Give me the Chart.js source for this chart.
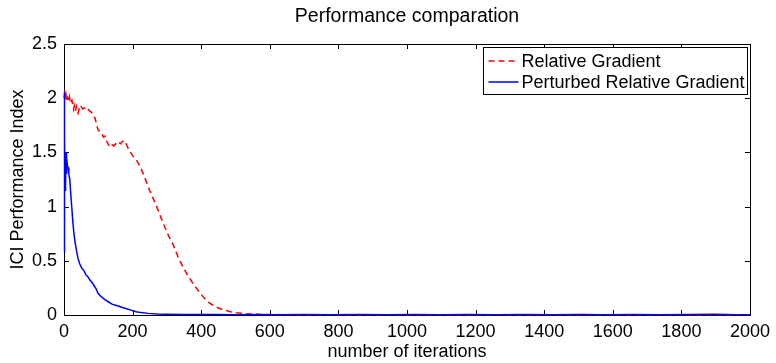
<!DOCTYPE html>
<html>
<head>
<meta charset="utf-8">
<script src="https://cdn.jsdelivr.net/npm/chart.js@4/dist/chart.umd.min.js"></script>
<style>
  html, body { margin: 0; padding: 0; background: #fff; }
  #perfChart { display: block; }
</style>
</head>
<body>
<canvas id="perfChart" width="776" height="363"></canvas>
<script>
const chartTitle = "Performance comparation";
const xTitle = "number of iterations";
const yTitle = "ICI Performance Index";
const seriesNames = ["Relative Gradient", "Perturbed Relative Gradient"];

const xTicks = [0, 200, 400, 600, 800, 1000, 1200, 1400, 1600, 1800, 2000];
const yTicks = [0, 0.5, 1, 1.5, 2, 2.5];

// Relative Gradient (red dashed)
const redIter = [0, 2, 4, 6, 8, 10, 12, 14, 16, 18, 20, 23, 26, 28, 30, 33, 36, 38, 41, 44,
  47, 50, 55, 60, 65, 70, 75, 80, 85, 90, 95, 99, 104, 110, 115, 120, 125, 130, 134, 140,
  145, 150, 155, 160, 165, 170, 175, 180, 185, 192, 200, 213, 222, 230, 240, 251, 262, 274, 285, 294,
  305, 318, 332, 347, 360, 376, 390, 405, 420, 434, 450, 464, 485, 504, 525, 542, 570, 600, 650, 720,
  800, 900, 1000, 1100, 1200, 1300, 1400, 1500, 1600, 1700, 1800, 1900, 2000];
const redValue = [2.0, 2.04, 1.99, 2.03, 1.98, 2.01, 2.0, 1.97, 2.01, 1.97, 1.95, 1.98, 1.94, 1.9, 1.93, 1.88, 1.92, 1.88, 1.86, 1.9,
  1.89, 1.92, 1.9, 1.91, 1.89, 1.9, 1.88, 1.87, 1.85, 1.82, 1.76, 1.71, 1.69, 1.68, 1.64, 1.65, 1.6, 1.57, 1.55, 1.57,
  1.56, 1.58, 1.57, 1.59, 1.58, 1.6, 1.61, 1.59, 1.55, 1.51, 1.47, 1.42, 1.37, 1.31, 1.23, 1.14, 1.06, 0.97, 0.88, 0.81,
  0.73, 0.65, 0.54, 0.44, 0.37, 0.29, 0.23, 0.17, 0.12, 0.09, 0.065, 0.05, 0.03, 0.02, 0.013, 0.01, 0.006, 0.004, 0.003, 0.003,
  0.002, 0.003, 0.002, 0.003, 0.002, 0.002, 0.003, 0.002, 0.002, 0.003, 0.002, 0.003, 0.002];

// Perturbed Relative Gradient (blue solid)
const blueIter = [0, 1, 2, 3, 4, 5, 6, 7, 8, 10, 12, 14, 17, 20, 23, 26, 29, 32, 36, 41,
  46, 52, 58, 64, 70, 76, 82, 88, 94, 99, 105, 112, 120, 130, 140, 150, 160, 170, 180, 195,
  210, 225, 245, 270, 300, 350, 400, 450, 500, 560, 620, 700, 780, 860, 940, 1020, 1100, 1180, 1260,
  1340, 1420, 1500, 1580, 1660, 1740, 1820, 1900, 1960, 2000];
const blueValue = [0.58, 2.06, 1.6, 1.15, 1.45, 1.2, 1.5, 1.3, 1.45, 1.38, 1.36, 1.3, 1.25, 1.1, 0.98, 0.85, 0.75, 0.68, 0.6, 0.52,
  0.47, 0.43, 0.41, 0.37, 0.35, 0.32, 0.3, 0.27, 0.24, 0.2, 0.18, 0.16, 0.14, 0.12, 0.1, 0.09, 0.08, 0.07, 0.06, 0.045,
  0.03, 0.022, 0.015, 0.01, 0.007, 0.005, 0.004, 0.004, 0.003, 0.005, 0.002, 0.004, 0.003, 0.005, 0.002, 0.004, 0.003, 0.005, 0.002,
  0.004, 0.003, 0.005, 0.002, 0.004, 0.003, 0.005, 0.006, 0.003, 0.002];

const FONT = "'Liberation Sans', Arial, Helvetica, sans-serif";

function toPoints(xs, ys) {
  return xs.map((x, i) => ({ x, y: ys[i] }));
}

// MATLAB-like box: inward ticks on all four sides, drawn under the data
const boxTicks = {
  id: "boxTicks",
  beforeDatasetsDraw(chart) {
    const { ctx, chartArea: a, scales } = chart;
    const len = 5;
    ctx.save();
    ctx.strokeStyle = "#000";
    ctx.lineWidth = 1;
    ctx.beginPath();
    xTicks.forEach(v => {
      const px = Math.round(scales.x.getPixelForValue(v)) + 0.5;
      ctx.moveTo(px, a.bottom); ctx.lineTo(px, a.bottom - len);
      ctx.moveTo(px, a.top); ctx.lineTo(px, a.top + len);
    });
    yTicks.forEach(v => {
      const py = Math.round(scales.y.getPixelForValue(v)) + 0.5;
      ctx.moveTo(a.left, py); ctx.lineTo(a.left + len, py);
      ctx.moveTo(a.right, py); ctx.lineTo(a.right - len, py);
    });
    ctx.stroke();
    ctx.strokeRect(Math.round(a.left) + 0.5, Math.round(a.top) + 0.5,
      Math.round(a.right - a.left), Math.round(a.bottom - a.top));
    ctx.restore();
  }
};

// legend box in the top-right corner of the plot
const boxLegend = {
  id: "boxLegend",
  afterDraw(chart) {
    const { ctx, chartArea: a } = chart;
    const w = 264, h = 47;
    const x0 = Math.round(a.right - 3 - w) + 0.5;
    const y0 = Math.round(a.top + 3) + 0.5;
    ctx.save();
    ctx.fillStyle = "#fff";
    ctx.fillRect(x0, y0, w, h);
    ctx.strokeStyle = "#000";
    ctx.lineWidth = 1;
    ctx.strokeRect(x0, y0, w, h);
    ctx.font = "18px " + FONT;
    ctx.textBaseline = "middle";
    chart.data.datasets.forEach((ds, i) => {
      const cy = y0 + 13.5 + i * 21;
      ctx.strokeStyle = ds.borderColor;
      ctx.lineWidth = ds.borderWidth;
      ctx.setLineDash(ds.borderDash || []);
      ctx.beginPath();
      ctx.moveTo(x0 + 5, cy);
      ctx.lineTo(x0 + 35, cy);
      ctx.stroke();
      ctx.setLineDash([]);
      ctx.fillStyle = "#000";
      ctx.fillText(ds.label, x0 + 38, cy + 1);
    });
    ctx.restore();
  }
};

new Chart(document.getElementById("perfChart"), {
  type: "line",
  data: {
    datasets: [
      {
        label: seriesNames[0],
        data: toPoints(redIter, redValue),
        borderColor: "#ff0000",
        borderWidth: 1.5,
        borderDash: [6, 4],
        pointRadius: 0,
        tension: 0,
        clip: 3,
        order: 1,
      },
      {
        label: seriesNames[1],
        data: toPoints(blueIter, blueValue),
        borderColor: "#0000ff",
        borderWidth: 1.5,
        pointRadius: 0,
        tension: 0,
        clip: 3,
        order: 0,
      },
    ],
  },
  options: {
    responsive: false,
    animation: false,
    devicePixelRatio: 1,
    layout: { padding: { left: 0, right: 26, top: 0, bottom: 0 } },
    plugins: {
      legend: { display: false },
      tooltip: { enabled: false },
      title: {
        display: true,
        text: chartTitle,
        fullSize: false,
        color: "#000",
        font: { family: FONT, size: 19.5, weight: "normal", lineHeight: 1.2 },
        padding: { top: 5, bottom: 15.6 },
      },
    },
    scales: {
      x: {
        type: "linear",
        min: 0,
        max: 2000,
        afterBuildTicks: s => { s.ticks = xTicks.map(v => ({ value: v })); },
        afterFit: s => { s.height = 48; },
        grid: { drawOnChartArea: false, drawTicks: false },
        border: { display: false },
        ticks: {
          color: "#000", padding: 6, maxRotation: 0,
          font: { family: FONT, size: 18 },
          callback: v => String(v),
        },
        title: {
          display: true, text: xTitle, color: "#000",
          font: { family: FONT, size: 18, lineHeight: 1.2 },
          padding: { top: 0, bottom: 0 },
        },
      },
      y: {
        type: "linear",
        min: 0,
        max: 2.5,
        afterBuildTicks: s => { s.ticks = yTicks.map(v => ({ value: v })); },
        afterFit: s => { s.width = 64; },
        grid: { drawOnChartArea: false, drawTicks: false },
        border: { display: false },
        ticks: {
          color: "#000", padding: 7,
          font: { family: FONT, size: 18 },
          callback: v => String(v),
        },
        title: {
          display: true, text: yTitle, color: "#000",
          font: { family: FONT, size: 18, lineHeight: 1.2 },
          padding: { top: 7, bottom: 0 },
        },
      },
    },
  },
  plugins: [boxTicks, boxLegend],
});
</script>
</body>
</html>
